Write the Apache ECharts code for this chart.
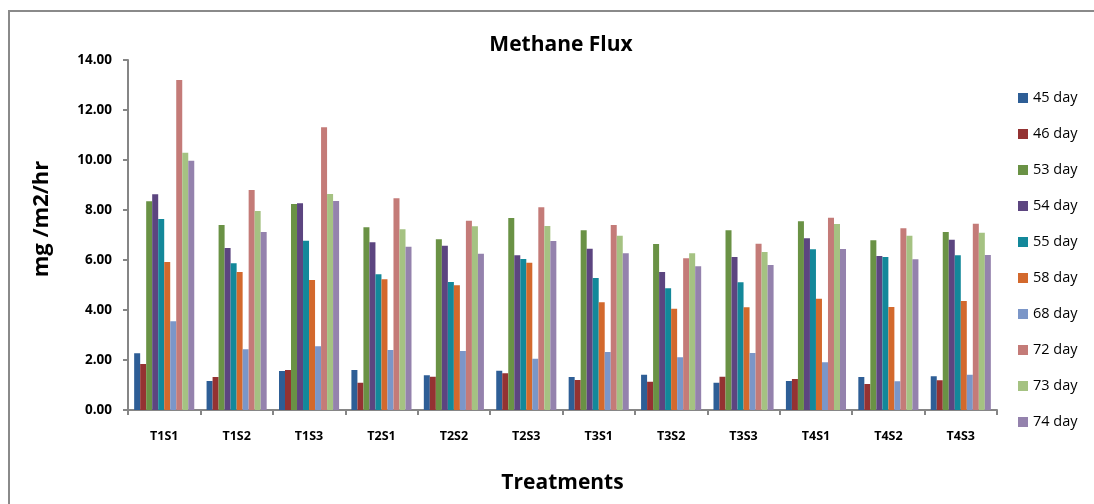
<!DOCTYPE html>
<html>
<head>
<meta charset="utf-8">
<script src="https://cdn.jsdelivr.net/npm/echarts@6/dist/echarts.min.js"></script>
<style>
html,body{margin:0;padding:0;background:#fff;}
#chart{width:1094px;height:504px;}
</style>
</head>
<body>
<div id="chart"></div>
<script>
var categories = ['T1S1','T1S2','T1S3','T2S1','T2S2','T2S3','T3S1','T3S2','T3S3','T4S1','T4S2','T4S3'];
var seriesNames = ['45 day','46 day','53 day','54 day','55 day','58 day','68 day','72 day','73 day','74 day'];
var yTicks = [0, 2, 4, 6, 8, 10, 12, 14];

var day45 = [2.27, 1.16, 1.56, 1.60, 1.39, 1.57, 1.32, 1.41, 1.09, 1.16, 1.32, 1.35];
var day46 = [1.84, 1.32, 1.60, 1.09, 1.33, 1.47, 1.20, 1.13, 1.33, 1.24, 1.04, 1.19];
var day53 = [8.35, 7.40, 8.24, 7.31, 6.83, 7.68, 7.19, 6.64, 7.19, 7.55, 6.79, 7.12];
var day54 = [8.63, 6.48, 8.27, 6.71, 6.57, 6.19, 6.45, 5.52, 6.12, 6.87, 6.16, 6.81];
var day55 = [7.64, 5.87, 6.77, 5.43, 5.12, 6.04, 5.28, 4.87, 5.11, 6.43, 6.12, 6.19];
var day58 = [5.92, 5.52, 5.20, 5.23, 4.99, 5.89, 4.31, 4.05, 4.11, 4.45, 4.12, 4.36];
var day68 = [3.55, 2.43, 2.55, 2.40, 2.36, 2.05, 2.32, 2.11, 2.28, 1.91, 1.15, 1.41];
var day72 = [13.20, 8.80, 11.31, 8.47, 7.57, 8.11, 7.40, 6.07, 6.65, 7.69, 7.27, 7.45];
var day73 = [10.29, 7.96, 8.64, 7.23, 7.35, 7.36, 6.97, 6.27, 6.32, 7.44, 6.97, 7.09];
var day74 = [9.97, 7.12, 8.36, 6.53, 6.25, 6.76, 6.27, 5.75, 5.80, 6.44, 6.03, 6.20];

var allValues = [day45, day46, day53, day54, day55, day58, day68, day72, day73, day74];
var colors = ['#2E5E96','#943232','#6A9245','#5C4580','#13889A','#D3692D','#7B96C8','#C47B78','#A5C282','#9482AD'];

var chart = echarts.init(document.getElementById('chart'), null, {renderer:'canvas'});
var series = seriesNames.map(function(n, i){
  return {
    name: n,
    type: 'bar',
    data: allValues[i],
    barGap: '0%',
    barCategoryGap: '17%',
    itemStyle: {color: colors[i]}
  };
});

var axisColor = '#868686';
chart.setOption({
  animation: false,
  backgroundColor: '#fff',
  color: colors,
  graphic: [{
    type: 'rect',
    shape: {x: 9, y: 11, width: 1200, height: 600},
    style: {fill: 'none', stroke: '#8a8a8a', lineWidth: 2},
    silent: true
  }],
  title: {
    text: 'Methane Flux',
    left: 556,
    textAlign: 'center',
    top: 30,
    textStyle: {fontFamily: 'Open Sans', fontWeight: 'bold', fontSize: 21, color: '#000'}
  },
  legend: {
    orient: 'vertical',
    left: 1013,
    top: 85,
    itemWidth: 10,
    itemHeight: 10,
    itemGap: 20,
    icon: 'rect',
    data: seriesNames,
    textStyle: {fontFamily: 'Open Sans', fontSize: 14.5, color: '#000', lineHeight: 16}
  },
  grid: {left: 128, right: 97, top: 60, bottom: 94},
  xAxis: {
    type: 'category',
    data: categories,
    name: 'Treatments',
    nameLocation: 'middle',
    nameGap: 63,
    nameTextStyle: {fontFamily: 'Open Sans', fontWeight: 'bold', fontSize: 21, color: '#000'},
    axisLine: {lineStyle: {color: axisColor, width: 2}},
    axisTick: {show: true, alignWithLabel: false, length: 5, lineStyle: {color: axisColor, width: 2}},
    axisLabel: {fontFamily: 'Open Sans', fontWeight: 'bold', fontSize: 12.5, color: '#000', margin: 20},
    splitLine: {show: false}
  },
  yAxis: {
    type: 'value',
    min: yTicks[0],
    max: yTicks[yTicks.length - 1],
    interval: 2,
    name: 'mg /m2/hr',
    nameLocation: 'middle',
    nameRotate: 90,
    nameGap: 75,
    nameTextStyle: {fontFamily: 'Open Sans', fontWeight: 'bold', fontSize: 22, color: '#000', padding: [0, 0, 0, 32]},
    axisLine: {show: true, lineStyle: {color: axisColor, width: 2}},
    axisTick: {show: true, length: 5, lineStyle: {color: axisColor, width: 2}},
    axisLabel: {fontFamily: 'Open Sans', fontWeight: 'bold', fontSize: 13.5, color: '#000', margin: 16,
      formatter: function(v){ return v.toFixed(2); }},
    splitLine: {show: false}
  },
  series: series
});
</script>
</body>
</html>
